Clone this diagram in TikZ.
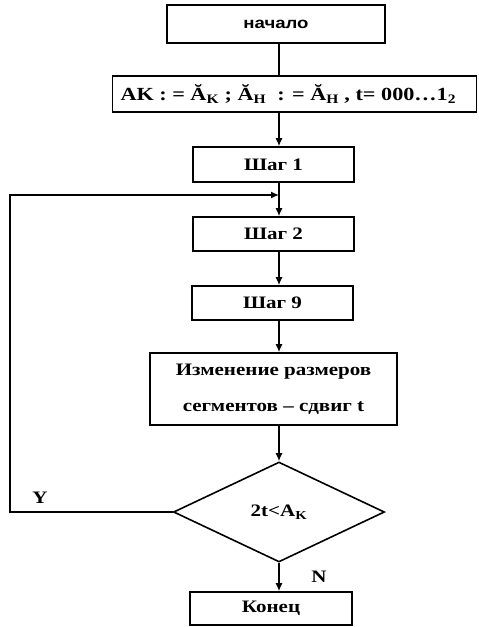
\documentclass[tikz,border=0pt]{standalone}
\usepackage{fontspec}
\setmainfont{Liberation Serif}[FakeStretch=1.2]
\newfontfamily\startfont{Liberation Sans}[FakeStretch=1.2]
\usetikzlibrary{shapes.geometric,arrows.meta}
\begin{document}
\begin{tikzpicture}[x=1pt,y=-1pt,
  box/.style={draw,line width=1.6pt,rectangle,inner sep=0pt,font=\fontsize{17.5}{20}\selectfont\bfseries},
  dia/.style={draw,line width=1.6pt,diamond,inner sep=0pt,font=\fontsize{17.5}{20}\selectfont\bfseries},
  arr/.style={line width=1.4pt,-{Latex[length=8pt,width=7pt]}},
  ln/.style={line width=1.4pt},
  lbl/.style={font=\fontsize{17.5}{20}\selectfont\bfseries,inner sep=0pt}]
\useasboundingbox (0,0) rectangle (479,627);
\node[box,minimum width=218pt,minimum height=38pt,font=\fontsize{15.5}{18}\startfont\bfseries] (start) at (276,24) {начало};
\node[box,minimum width=364pt,minimum height=36pt,font=\fontsize{18.5}{20}\selectfont\bfseries] (init) at (294.5,94) {\makebox[348pt][l]{AK : = Ă\textsubscript{K} ; Ă\textsubscript{H} \ : = Ă\textsubscript{H} , t= 000\ldots1\textsubscript{2}}};
\node[box,minimum width=161pt,minimum height=35pt] (s1) at (273.5,164.5) {Шаг 1};
\node[box,minimum width=161pt,minimum height=34pt] (s2) at (273.5,234) {Шаг 2};
\node[box,minimum width=161pt,minimum height=34pt] (s9) at (272.5,303) {Шаг 9};
\node[box,minimum width=247pt,minimum height=72pt,align=center] (chg) at (273.5,389) {Изменение размеров\\[16pt]сегментов -- сдвиг t};
\node[dia,minimum width=211pt,minimum height=100pt] (dec) at (279,512) {2t<A\textsubscript{K}};
\node[box,minimum width=162pt,minimum height=33pt] (end) at (271,608.5) {Конец};
\node[lbl] (ylab) at (40,498) {Y};
\node[lbl] (nlab) at (319,577) {N};
\coordinate (fb) at (10,195);
\draw[ln] (start.south -| dec.north) -- (init.north -| dec.north);
\draw[arr] (init.south -| dec.north) -- (s1.north -| dec.north);
\draw[arr] (s1.south -| dec.north) -- (s2.north -| dec.north);
\draw[arr] (s2.south -| dec.north) -- (s9.north -| dec.north);
\draw[arr] (s9.south -| dec.north) -- (chg.north -| dec.north);
\draw[arr] (chg.south -| dec.north) -- (dec.north);
\draw[arr] (dec.south) -- (end.north -| dec.south);
\draw[arr] (dec.west) -| (fb) -- (fb -| dec.north);
\end{tikzpicture}
\end{document}
